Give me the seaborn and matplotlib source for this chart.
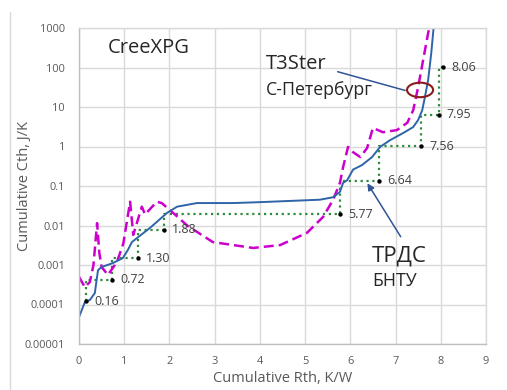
import numpy as np
import pandas as pd
import seaborn as sns
import matplotlib.pyplot as plt
from matplotlib.patches import Ellipse
from matplotlib.lines import Line2D

# --- data ---
blue_rth = [0.0, 0.13, 0.24, 0.35, 0.42, 0.5, 0.75, 0.97, 1.08, 1.17, 1.31, 1.57, 1.95, 2.17,
            2.61, 3.41, 4.0, 5.33, 5.62, 5.77, 5.84, 5.93, 6.06, 6.26, 6.48, 6.66, 6.88, 7.17,
            7.39, 7.5, 7.59, 7.65, 7.72, 7.79, 7.85]
blue_cth = [4.8e-5, 1.15e-4, 1.3e-4, 1.95e-4, 7.4e-4, 8.9e-4, 1.12e-3, 1.5e-3, 2.4e-3, 3.8e-3,
            5.1e-3, 8.7e-3, 0.021, 0.030, 0.037, 0.037, 0.039, 0.045, 0.052, 0.071, 0.12, 0.14,
            0.26, 0.34, 0.54, 0.98, 1.45, 2.2, 3.1, 4.7, 8.3, 18, 48, 234, 1300]

mag_rth = [0.0, 0.13, 0.24, 0.32, 0.40, 0.45, 0.5, 0.64, 0.84, 0.98, 1.13, 1.2, 1.39, 1.46,
           1.72, 1.83, 2.17, 2.39, 2.96, 3.85, 4.45, 5.04, 5.40, 5.62, 5.77, 5.84, 5.95, 6.06,
           6.22, 6.37, 6.50, 6.72, 7.03, 7.26, 7.39, 7.50, 7.61, 7.72, 7.77]
mag_cth = [5e-4, 2.75e-4, 3.7e-4, 1e-3, 0.0115, 2e-3, 8.9e-4, 5.6e-4, 1.2e-3, 3.5e-3, 0.040,
           5.8e-3, 0.030, 0.019, 0.040, 0.037, 0.017, 0.010, 3.8e-3, 2.7e-3, 3.2e-3, 6.5e-3,
           0.0166, 0.045, 0.12, 0.30, 0.98, 0.72, 0.54, 0.91, 2.95, 2.3, 2.6, 4.0, 8.3, 32, 155,
           740, 1300]

step_rth = [0.16, 0.72, 1.30, 1.88, 5.77, 6.64, 7.56, 7.95, 8.06]
step_cth = [1.2e-4, 4.2e-4, 1.5e-3, 7.8e-3, 0.0195, 0.135, 1.02, 6.3, 102]
step_labels = ['0.16', '0.72', '1.30', '1.88', '5.77', '6.64', '7.56', '7.95', '8.06']

y_ticks = [1e-5, 1e-4, 1e-3, 1e-2, 1e-1, 1, 10, 100, 1000]
y_tick_labels = ['0.00001', '0.0001', '0.001', '0.01', '0.1', '1', '10', '100', '1000']

sns.set_theme(style="whitegrid")
plt.rcParams['font.family'] = ['Open Sans', 'DejaVu Sans']

fig = plt.figure(figsize=(5.07, 3.9), dpi=100)
ax = fig.add_axes([79 / 507, 1 - 344 / 390, 407 / 507, 316 / 390])

sns.lineplot(x=step_rth, y=step_cth, ax=ax, color='#2e8b3e', linewidth=1.6,
             linestyle=':', drawstyle='steps-pre', sort=False, estimator=None)
sns.lineplot(x=mag_rth, y=mag_cth, ax=ax, color='#cc00cc', linewidth=1.8,
             linestyle=(0, (4, 2)), sort=False, estimator=None)
sns.lineplot(x=blue_rth, y=blue_cth, ax=ax, color='#2e64a8', linewidth=1.4,
             sort=False, estimator=None)
sns.scatterplot(x=step_rth, y=step_cth, ax=ax, color='black', s=10, zorder=5, linewidth=0)

for xv, yv, lab in zip(step_rth, step_cth, step_labels):
    ax.annotate(lab, (xv, yv), xytext=(6, 0), textcoords='offset points',
                va='center', ha='left', fontsize=9, color='#404040')

ax.set_yscale('log')
ax.set_ylim(1e-5, 1000)
ax.set_xlim(0, 9)
ax.set_yticks(y_ticks)
ax.set_yticklabels(y_tick_labels)
ax.minorticks_off()
ax.set_xticks(range(10))
ax.tick_params(length=0, labelsize=7.9, labelcolor='#595959')
ax.tick_params(axis='y', pad=10)
ax.tick_params(axis='x', pad=9)
ax.grid(True, color='#d9d9d9', linewidth=1)
for side in ['top', 'right']:
    ax.spines[side].set_color('#d9d9d9')
for side in ['left', 'bottom']:
    ax.spines[side].set_color('#bfbfbf')
for sp in ax.spines.values():
    sp.set_linewidth(1)

ax.set_ylabel('Cumulative Cth, J/K', fontsize=10.5, color='#595959')
ax.set_xlabel('Cumulative Rth, K/W', fontsize=10.5, color='#595959')
ax.yaxis.set_label_coords(-0.115, 0.5)
ax.xaxis.set_label_coords(0.5, -0.108)
ax.xaxis.label.set_va('center')

# annotations
ax.text(0.071, 0.937, 'CreeXPG', transform=ax.transAxes, fontsize=14.5,
        color='#262626', va='center', ha='left')
ax.text(0.46, 0.887, 'T3Ster', transform=ax.transAxes, fontsize=14.5,
        color='#262626', va='center', ha='left')
ax.text(0.46, 0.804, 'С-Петербург', transform=ax.transAxes, fontsize=12.8,
        color='#262626', va='center', ha='left')
ax.text(0.72, 0.28, 'ТРДС', transform=ax.transAxes, fontsize=16,
        color='#262626', va='center', ha='left')
ax.text(0.72, 0.199, 'БНТУ', transform=ax.transAxes, fontsize=12.8,
        color='#262626', va='center', ha='left')

ax.add_patch(Ellipse((0.838, 0.804), 0.064, 0.046, transform=ax.transAxes,
                     fill=False, edgecolor='#8b1a1a', linewidth=1.5, zorder=6))
ax.annotate('', xy=(0.808, 0.800), xytext=(0.629, 0.864), xycoords='axes fraction',
            arrowprops=dict(arrowstyle='-', color='#2f5597', linewidth=1.1))
ax.annotate('', xy=(0.705, 0.516), xytext=(0.794, 0.332), xycoords='axes fraction',
            arrowprops=dict(arrowstyle='-|>', color='#2f5597', linewidth=1.1,
                            mutation_scale=10))

fig.add_artist(Line2D([10 / 507, 10 / 507], [0, 1 - 12 / 390], color='#d9d9d9',
                      linewidth=1, transform=fig.transFigure))

fig.savefig('out.png', dpi=100)
